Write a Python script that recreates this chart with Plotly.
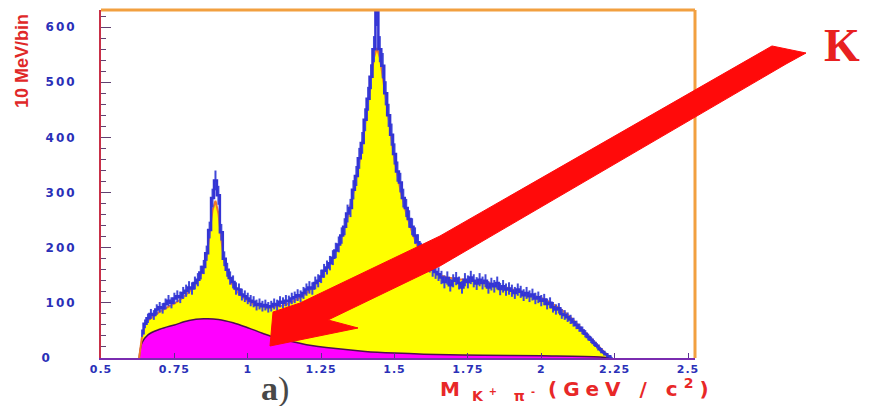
import numpy as np
import plotly.graph_objects as go

# ---- K+ pi- invariant mass spectrum (10 MeV bins) ----
mass_start = 0.64
mass_step = 0.01
counts = [
    45, 62, 72, 80, 78, 88, 92, 90, 98, 104,
    100, 108, 112, 110, 118, 122, 128, 126, 136, 142,
    155, 165, 190, 232, 290, 322, 295, 228, 180, 160,
    145, 138, 126, 124, 115, 112, 108, 104, 102, 96,
    98, 94, 96, 92, 94, 98, 96, 102, 100, 104,
    103, 108, 110, 114, 112, 118, 124, 128, 126, 136,
    140, 148, 158, 164, 172, 182, 195, 206, 222, 238,
    262, 272, 305, 330, 362, 390, 432, 470, 510, 560,
    627, 560, 530, 480, 440, 405, 370, 338, 318, 290,
    272, 252, 238, 222, 210, 195, 186, 175, 168, 160,
    156, 152, 146, 138, 145, 132, 140, 144, 136, 128,
    142, 138, 146, 140, 135, 142, 136, 140, 128, 134,
    130, 136, 125, 130, 124, 126, 122, 118, 124, 120,
    114, 118, 112, 115, 108, 110, 104, 106, 98, 100,
    92, 88, 90, 80, 78, 74, 70, 65, 60, 55,
    50, 44, 38, 33, 27, 22, 16, 11, 7, 3,
    1,
]

# total fit (signal + background)
fit_mass = [
    0.63, 0.64, 0.65, 0.66, 0.68, 0.70, 0.72, 0.74, 0.76, 0.78,
    0.80, 0.82, 0.84, 0.86, 0.87, 0.88, 0.89, 0.90, 0.91, 0.92,
    0.94, 0.96, 0.98, 1.00, 1.02, 1.04, 1.06, 1.08, 1.10, 1.12,
    1.14, 1.16, 1.18, 1.20, 1.22, 1.24, 1.26, 1.28, 1.30, 1.32,
    1.34, 1.36, 1.38, 1.40, 1.42, 1.43, 1.44, 1.45, 1.46, 1.48,
    1.50, 1.52, 1.54, 1.56, 1.58, 1.60, 1.62, 1.64, 1.66, 1.68,
    1.70, 1.72, 1.74, 1.76, 1.78, 1.80, 1.82, 1.84, 1.86, 1.88,
    1.90, 1.92, 1.94, 1.96, 1.98, 2.00, 2.02, 2.04, 2.06, 2.08,
    2.10, 2.12, 2.14, 2.16, 2.18, 2.20, 2.22, 2.24,
]
fit_counts = [
    0, 40, 60, 68, 76, 84, 90, 96, 102, 110,
    120, 132, 150, 185, 225, 268, 285, 262, 215, 175,
    140, 122, 112, 104, 98, 95, 93, 92, 93, 95,
    99, 104, 110, 118, 128, 140, 155, 172, 193, 220,
    255, 300, 355, 425, 505, 545, 562, 545, 510, 430,
    360, 305, 262, 228, 200, 180, 165, 155, 149, 146,
    144, 143, 142, 141, 140, 138, 136, 134, 131, 128,
    125, 122, 119, 116, 113, 109, 104, 98, 91, 83,
    74, 63, 52, 41, 30, 19, 8, 0,
]

# non-resonant background component
bkg_mass = [0.63, 0.64, 0.66, 0.70, 0.75, 0.80, 0.85, 0.90, 0.95, 1.00,
            1.05, 1.10, 1.15, 1.20, 1.30, 1.40, 1.50, 1.60, 1.80, 2.00,
            2.20, 2.24]
bkg_counts = [0, 28, 42, 52, 60, 68, 71, 70, 64, 55,
              45, 36, 30, 24, 17, 12, 9, 7, 5, 4,
              2, 0]

x_ticks = [0.5, 0.75, 1, 1.25, 1.5, 1.75, 2, 2.25, 2.5]
x_tick_text = ["0.5", "0.75", "1", "1.25", "1.5", "1.75", "2", "2.25", "2.5"]
y_ticks = [0, 100, 200, 300, 400, 500, 600]
y_tick_text = ["0", "100", "200", "300", "400", "500", "600"]

mass = [round(mass_start + i * mass_step, 3) for i in range(len(counts))]
errors = np.sqrt(np.array(counts, dtype=float))

# ---- layout geometry (pixels) ----
W, H = 869, 406
L, R, T, B = 101, 174, 10, 48
PW, PH = W - L - R, H - T - B


def px(x):
    return (x - L) / PW


def py(y):
    return (H - B - y) / PH


def spaced(text, gap):
    return f"<span style='letter-spacing:{gap}px'>{text}</span>"


fig = go.Figure()

fig.add_trace(go.Scatter(
    x=fit_mass, y=fit_counts, mode="lines", fill="tozeroy",
    fillcolor="#ffff00", line=dict(color="#ffff00", width=0),
    hoverinfo="skip", showlegend=False))

fig.add_trace(go.Scatter(
    x=bkg_mass, y=bkg_counts, mode="lines", fill="tozeroy",
    fillcolor="#ff00ff", line=dict(color="#4a1050", width=1.5, shape="spline"),
    showlegend=False))

fig.add_trace(go.Scatter(
    x=fit_mass, y=fit_counts, mode="lines",
    line=dict(color="#f07828", width=2), showlegend=False))

fig.add_trace(go.Scatter(
    x=mass, y=counts, mode="lines",
    line=dict(color="#3434d4", width=2.5, shape="hvh"),
    error_y=dict(type="data", array=errors, color="#4048d8", thickness=2, width=0),
    showlegend=False))

# frame: orange top and right edges
fig.add_shape(type="line", xref="paper", yref="paper", x0=0, x1=1, y0=1, y1=1,
              line=dict(color="#f2a040", width=3))
fig.add_shape(type="line", xref="paper", yref="paper", x0=1, x1=1, y0=0, y1=1,
              line=dict(color="#f2a040", width=3))

# big red pointer arrow
arrow_px = [(270, 346), (358, 328), (328, 320), (440, 266), (786, 64),
            (806, 53), (772, 46), (440, 236), (300, 303), (273, 312)]
path = "M " + " L ".join(f"{px(a):.4f},{py(b):.4f}" for a, b in arrow_px) + " Z"
fig.add_shape(type="path", xref="paper", yref="paper", path=path,
              fillcolor="#ff0a0a", line=dict(color="#ff0a0a", width=1))

fig.add_annotation(xref="paper", yref="paper", x=px(842), y=py(46),
                   xanchor="center", yanchor="middle",
                   text="<b>K</b>", showarrow=False,
                   font=dict(family="Liberation Serif", size=46, color="#e82020"))

fig.add_annotation(xref="paper", yref="paper", x=px(22), y=py(61),
                   xanchor="center", yanchor="middle",
                   text="<b>10 MeV/bin</b>", textangle=-90, showarrow=False,
                   font=dict(family="Liberation Sans", size=18, color="#e02828"))

fig.add_annotation(xref="paper", yref="paper", x=px(438), y=py(390),
                   xanchor="left", yanchor="middle", showarrow=False,
                   text=("<b>" + spaced("M", 12) + "<sub>"
                         + spaced("K<sup>+</sup> π<sup>-</sup>", 6) + "</sub> "
                         + spaced("(GeV / c<sup>2</sup>)", 6) + "</b>"),
                   font=dict(family="DejaVu Sans", size=20, color="#e82828"))

fig.add_annotation(xref="paper", yref="paper", x=px(275), y=py(389),
                   xanchor="center", yanchor="middle",
                   text="<b>a</b>)", showarrow=False,
                   font=dict(family="Liberation Serif", size=34, color="#484848"))

fig.update_layout(
    width=W, height=H,
    margin=dict(l=L, r=R, t=T, b=B),
    paper_bgcolor="white", plot_bgcolor="white",
    xaxis=dict(range=[0.5, 0.5 + PW / 293.5], tickvals=x_ticks,
               ticktext=[spaced(t, 1) for t in x_tick_text],
               showgrid=False, zeroline=False, showline=True, linecolor="#7a2cb0",
               linewidth=2, ticks="inside", ticklen=5, tickcolor="#5a3090",
               ticklabelstandoff=0,
               tickfont=dict(family="DejaVu Sans", size=11, color="#2a30b8", weight="bold")),
    yaxis=dict(range=[0, 631], tickvals=y_ticks,
               ticktext=[spaced(t + ("\u00a0" * 4 if t == "0" else ""), 2)
                         for t in y_tick_text],
               showgrid=False, zeroline=False, showline=True, linecolor="#c83048",
               linewidth=2, ticks="inside", ticklen=10, tickcolor="#604070",
               ticklabelstandoff=20,
               minor=dict(dtick=20, ticks="inside", ticklen=5, tickcolor="#604070"),
               tickfont=dict(family="DejaVu Sans", size=12, color="#2a30b8", weight="bold")),
)

fig.write_html("out.html")
